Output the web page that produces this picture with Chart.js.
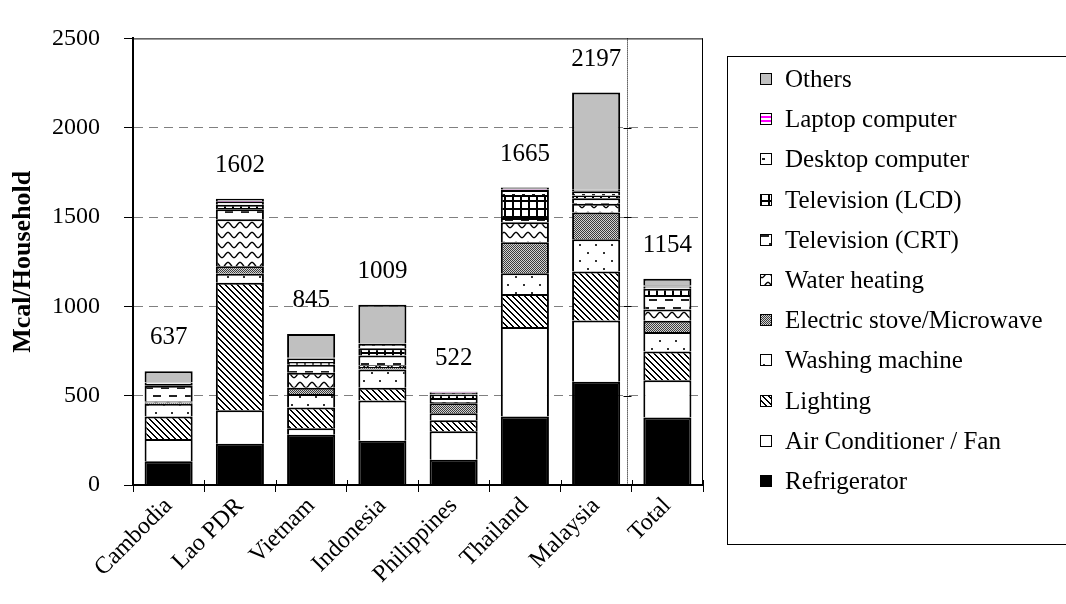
<!DOCTYPE html>
<html>
<head>
<meta charset="utf-8">
<title>Household electricity consumption by appliance</title>
<script src="https://cdn.jsdelivr.net/npm/chart.js@4.4.0/dist/chart.umd.min.js"></script>
<style>
  html, body { margin: 0; padding: 0; background: #fff; overflow: hidden; }
  #wrap { position: relative; width: 1066px; height: 604px; }
</style>
</head>
<body>
<div id="wrap"><canvas id="chart" width="1066" height="604"></canvas></div>
<script>
// Annual consumption per household (Mcal), by end use
const categories = ['Cambodia', 'Lao PDR', 'Vietnam', 'Indonesia', 'Philippines', 'Thailand', 'Malaysia', 'Total'];

const refrigerator   = [133, 231, 281, 248, 141, 383, 578, 378];
const airConditioner = [125, 188,  36, 225, 160, 501, 343, 208];
const lighting       = [125, 713, 117,  72,  62, 185, 274, 162];
const washingMachine = [ 72,  50,  75, 101,  38, 117, 180, 108];
const electricStove  = [  7,  43,  36,  15,  56, 173, 150,  63];
const waterHeating   = [  7, 262,  83,  10,   8, 112,  50,  63];
const tvCRT          = [ 86,  57,  45,  54,  22,  24,  30,  81];
const tvLCD          = [ 10,  25,  15,  41,  20, 129,  15,  36];
const desktopPC      = [  8,  15,  20,  24,   8,  28,  25,  12];
const laptopPC       = [  2,   4,   4,   3,   3,   2,   8,   6];
const others         = [ 62,  14, 133, 216,   4,  11, 544,  37];

const yTicks = [0, 500, 1000, 1500, 2000, 2500];

const canvas = document.getElementById('chart');
const mainCtx = canvas.getContext('2d');

// Small repeating tiles used as fill patterns
function tile(w, h, draw) {
  const c = document.createElement('canvas');
  c.width = w; c.height = h;
  const g = c.getContext('2d');
  g.fillStyle = '#fff';
  g.fillRect(0, 0, w, h);
  draw(g, w, h);
  return mainCtx.createPattern(c, 'repeat');
}

const fills = {
  refrigerator: '#000000',
  airConditioner: '#ffffff',
  lighting: tile(6, 6, (g, w, h) => {
    g.fillStyle = '#000';
    for (let y = 0; y < h; y++) for (let x = 0; x < w; x++) {
      const d = ((x - y) % w + w) % w;
      if (d === 0 || d === 1) g.fillRect(x, y, 1, 1);
    }
  }),
  washingMachine: tile(16, 16, g => {
    g.fillStyle = '#333';
    g.fillRect(3, 4, 2, 2);
    g.fillRect(11, 12, 2, 2);
  }),
  electricStove: tile(2, 2, g => {
    g.fillStyle = '#d2d2d2'; g.fillRect(0, 0, 2, 2);
    g.fillStyle = '#3a3a3a'; g.fillRect(0, 0, 1, 1); g.fillRect(1, 1, 1, 1);
  }),
  waterHeating: tile(12, 10, g => {
    g.strokeStyle = '#000'; g.lineWidth = 1.4;
    g.beginPath();
    for (let x = -1; x <= 13; x += 0.5) {
      const y = 5 - 2.6 * Math.cos(2 * Math.PI * x / 12);
      if (x === -1) g.moveTo(x, y); else g.lineTo(x, y);
    }
    g.stroke();
  }),
  tvCRT: tile(16, 16, g => {
    g.fillStyle = '#222';
    g.fillRect(1, 3, 8, 2);
    g.fillRect(9, 11, 7, 2);
    g.fillRect(0, 11, 1, 2);
  }),
  tvLCD: tile(8, 8, g => {
    g.fillStyle = '#000';
    g.fillRect(0, 0, 8, 2);
    g.fillRect(0, 0, 2, 8);
  }),
  desktopPC: tile(10, 6, g => {
    g.fillStyle = '#222';
    g.fillRect(2, 2, 3, 2);
  }),
  laptopPC: tile(1, 4, g => {
    g.fillStyle = '#ff00ff';
    g.fillRect(0, 0, 1, 2);
  }),
  others: '#c0c0c0'
};

const series = [
  { label: 'Refrigerator',             data: refrigerator,   fill: fills.refrigerator },
  { label: 'Air Conditioner / Fan',    data: airConditioner, fill: fills.airConditioner },
  { label: 'Lighting',                 data: lighting,       fill: fills.lighting },
  { label: 'Washing machine',          data: washingMachine, fill: fills.washingMachine },
  { label: 'Electric stove/Microwave', data: electricStove,  fill: fills.electricStove },
  { label: 'Water heating',            data: waterHeating,   fill: fills.waterHeating },
  { label: 'Television (CRT)',         data: tvCRT,          fill: fills.tvCRT },
  { label: 'Television (LCD)',         data: tvLCD,          fill: fills.tvLCD },
  { label: 'Desktop computer',         data: desktopPC,      fill: fills.desktopPC },
  { label: 'Laptop computer',          data: laptopPC,       fill: fills.laptopPC },
  { label: 'Others',                   data: others,         fill: fills.others }
];

// Bar totals shown above each stack
const totals = categories.map((_, i) => series.reduce((s, d) => s + d.data[i], 0));

const SERIF = '"Liberation Serif", "Times New Roman", serif';

const decorations = {
  id: 'decorations',
  afterDatasetsDraw(chart) {
    const { ctx, chartArea: a, scales: { x, y } } = chart;
    const seg = (x1, y1, x2, y2) => { ctx.beginPath(); ctx.moveTo(x1, y1); ctx.lineTo(x2, y2); ctx.stroke(); };
    ctx.save();

    // plot frame: top and right edges
    ctx.strokeStyle = '#000';
    ctx.lineWidth = 1;
    seg(a.left, a.top + 0.5, a.right, a.top + 0.5);
    seg(a.right - 0.5, a.top, a.right - 0.5, a.bottom);

    // category tick marks crossing the axis line
    const step = (x.getPixelForValue(1) - x.getPixelForValue(0));
    for (let i = 0; i <= categories.length; i++) {
      const bx = Math.round(x.getPixelForValue(0) - step / 2 + i * step) + 0.5;
      seg(bx, a.bottom - 5, bx, a.bottom);
    }

    // dotted divider between the countries and the overall total
    const sepX = Math.round(x.getPixelForValue(categories.length - 1) - step / 2) - 5 + 0.5;
    ctx.setLineDash([1, 1]);
    seg(sepX, a.top, sepX, a.bottom);
    ctx.setLineDash([]);
    yTicks.slice(1, -1).forEach(v => {
      const py = Math.round(y.getPixelForValue(v)) + 0.5;
      seg(sepX - 4, py, sepX + 4, py);
    });

    // totals above bars
    ctx.fillStyle = '#000';
    ctx.font = '25px ' + SERIF;
    ctx.textAlign = 'center';
    ctx.textBaseline = 'alphabetic';
    totals.forEach((t, i) => {
      ctx.fillText(String(t), x.getPixelForValue(i), y.getPixelForValue(t) - 27);
    });

    // legend (top entry = last stacked series)
    const lx = a.right + 24, ltop = 56, lbottom = 544;
    ctx.strokeStyle = '#000';
    ctx.lineWidth = 1;
    ctx.strokeRect(lx + 0.5, ltop + 0.5, 600, lbottom - ltop);
    ctx.textAlign = 'left';
    ctx.textBaseline = 'middle';
    const items = series.slice().reverse();
    items.forEach((s, k) => {
      const cy = Math.round(79 + k * 40.2);
      const sx = lx + 33;
      ctx.fillStyle = s.fill;
      ctx.fillRect(sx, cy - 6, 12, 12);
      ctx.strokeStyle = '#000';
      ctx.strokeRect(sx + 0.5, cy - 5.5, 11, 11);
      ctx.fillStyle = '#000';
      ctx.fillText(s.label, sx + 25, cy + 1);
    });
    ctx.restore();
  }
};

new Chart(canvas, {
  type: 'bar',
  data: {
    labels: categories,
    datasets: series.map(s => ({
      label: s.label,
      data: s.data,
      backgroundColor: s.fill,
      borderColor: '#000',
      borderWidth: 2,
      borderSkipped: 'start',
      barPercentage: 0.675,
      categoryPercentage: 1.0
    }))
  },
  options: {
    responsive: false,
    animation: false,
    devicePixelRatio: 1,
    layout: { padding: { top: 20, right: 363, left: 0, bottom: 0 } },
    plugins: {
      legend: { display: false },
      tooltip: { enabled: false }
    },
    scales: {
      x: {
        stacked: true,
        afterFit(scale) { scale.height = 119; },
        grid: { drawOnChartArea: false, color: '#000', tickColor: '#000', tickLength: 7, offset: true },
        border: { color: '#000', width: 2 },
        ticks: {
          color: '#000',
          font: { family: SERIF, size: 24 },
          minRotation: 45,
          maxRotation: 45,
          autoSkip: false,
          padding: 0
        }
      },
      y: {
        stacked: true,
        min: 0,
        max: 2500,
        afterFit(scale) { scale.width = 133; },
        afterBuildTicks(scale) { scale.ticks = yTicks.map(v => ({ value: v })); },
        grid: {
          color: c => (c.tick && (c.tick.value === 0 || c.tick.value === 2500)) ? 'rgba(0,0,0,0)' : '#808080',
          tickColor: '#000',
          tickLength: 9,
          tickBorderDash: [],
          lineWidth: 1
        },
        border: { color: '#000', width: 2, dash: [9, 6] },
        ticks: {
          color: '#000',
          font: { family: SERIF, size: 24 },
          padding: 24,
          callback: v => String(v)
        },
        title: {
          display: true,
          text: 'Mcal/Household',
          color: '#000',
          font: { family: SERIF, size: 26, weight: 'bold' },
          padding: { top: 8, bottom: 0 }
        }
      }
    }
  },
  plugins: [decorations]
});
</script>
</body>
</html>
